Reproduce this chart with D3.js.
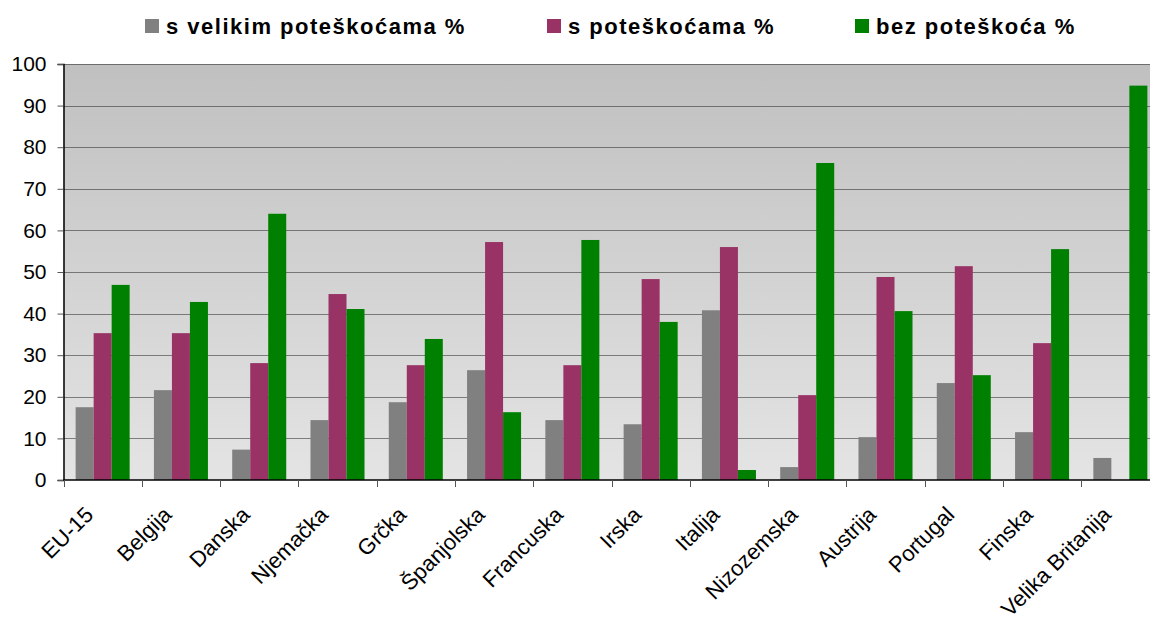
<!DOCTYPE html>
<html>
<head>
<meta charset="utf-8">
<script src="https://cdn.jsdelivr.net/npm/d3@7/dist/d3.min.js"></script>
<style>
  html, body { margin: 0; padding: 0; background: #fff; }
  svg { display: block; font-family: "Liberation Sans", Arial, sans-serif; }
</style>
</head>
<body>
<div id="chart"></div>
<script>
const categories = [`EU-15`, `Belgija`, `Danska`, `Njemačka`, `Grčka`, `Španjolska`, `Francuska`,
  `Irska`, `Italija`, `Nizozemska`, `Austrija`, `Portugal`, `Finska`, `Velika Britanija`];
const seriesNames = [`s velikim poteškoćama %`, `s poteškoćama %`, `bez poteškoća %`];
const velikim = [17.5, 21.6, 7.3, 14.4, 18.7, 26.4, 14.4, 13.4, 40.8, 3.1, 10.3, 23.3, 11.5, 5.3];
const poteskoce = [35.3, 35.3, 28.1, 44.7, 27.6, 57.2, 27.6, 48.3, 56.0, 20.4, 48.8, 51.4, 32.9, 0];
const bez = [46.9, 42.8, 64.0, 41.1, 33.9, 16.3, 57.7, 38.0, 2.4, 76.2, 40.6, 25.2, 55.5, 94.8];
const yTicks = [0, 10, 20, 30, 40, 50, 60, 70, 80, 90, 100];
const colors = [`#808080`, `#993366`, `#008000`];

const width = 1150;
const height = 619;
const plot = {left: 63.5, top: 64, bottom: 480, right: 1159.5};

const data = categories.map((c, i) => ({cat: c, values: [velikim[i], poteskoce[i], bez[i]]}));

const svg = d3.select(`#chart`).append(`svg`)
  .attr(`width`, width)
  .attr(`height`, height);

const x0 = d3.scaleBand()
  .domain(categories)
  .range([plot.left, plot.right])
  .paddingInner(0.31)
  .paddingOuter(0.155);

const x1 = d3.scaleBand()
  .domain(d3.range(seriesNames.length))
  .range([0, x0.bandwidth()]);

const y = d3.scaleLinear()
  .domain([0, 100])
  .range([plot.bottom, plot.top]);

// background gradient
const grad = svg.append(`defs`).append(`linearGradient`)
  .attr(`id`, `bg`)
  .attr(`x1`, 0).attr(`y1`, 0).attr(`x2`, 0).attr(`y2`, 1);
grad.append(`stop`).attr(`offset`, `0%`).attr(`stop-color`, `#c0c0c0`);
grad.append(`stop`).attr(`offset`, `100%`).attr(`stop-color`, `#e4e4e4`);

svg.append(`rect`)
  .attr(`x`, plot.left)
  .attr(`y`, plot.top)
  .attr(`width`, plot.right - plot.left)
  .attr(`height`, plot.bottom - plot.top)
  .attr(`fill`, `url(#bg)`);

// gridlines
svg.append(`g`)
  .selectAll(`line`)
  .data(yTicks.slice(1))
  .enter().append(`line`)
    .attr(`x1`, plot.left)
    .attr(`x2`, plot.right)
    .attr(`y1`, d => Math.round(y(d)) + 0.5)
    .attr(`y2`, d => Math.round(y(d)) + 0.5)
    .attr(`stroke`, `#1a1a1a`)
    .attr(`stroke-width`, 1)
    .attr(`stroke-dasharray`, `1,1`);

// bars
svg.append(`g`)
  .selectAll(`g`)
  .data(data)
  .enter().append(`g`)
    .attr(`transform`, d => `translate(${x0(d.cat)},0)`)
  .selectAll(`rect`)
  .data(d => d.values)
  .enter().append(`rect`)
    .attr(`x`, (d, i) => x1(i))
    .attr(`y`, d => y(d))
    .attr(`width`, x1.bandwidth())
    .attr(`height`, d => y(0) - y(d))
    .attr(`fill`, (d, i) => colors[i]);

// y axis
const yAxis = svg.append(`g`)
  .attr(`transform`, `translate(${plot.left},0)`)
  .call(d3.axisLeft(y).tickValues(yTicks).tickSize(6).tickPadding(11));
yAxis.select(`.domain`).attr(`stroke`, `#000`).attr(`stroke-width`, 1.5);
yAxis.selectAll(`.tick line`).attr(`stroke`, `#555`);
yAxis.selectAll(`.tick text`)
  .attr(`font-size`, `21px`)
  .attr(`font-family`, `"Liberation Sans", Arial, sans-serif`)
  .attr(`fill`, `#000`);

// x axis
const step = x0.step();
const bounds = d3.range(categories.length + 1).map(i => plot.left + i * step);
const xAxis = svg.append(`g`);
xAxis.append(`line`)
  .attr(`x1`, plot.left).attr(`x2`, plot.right)
  .attr(`y1`, plot.bottom).attr(`y2`, plot.bottom)
  .attr(`stroke`, `#000`).attr(`stroke-width`, 1.5);
xAxis.selectAll(`.xt`)
  .data(bounds)
  .enter().append(`line`)
    .attr(`class`, `xt`)
    .attr(`x1`, d => Math.round(d) + 0.5).attr(`x2`, d => Math.round(d) + 0.5)
    .attr(`y1`, plot.bottom).attr(`y2`, plot.bottom + 7)
    .attr(`stroke`, `#555`);

xAxis.selectAll(`text`)
  .data(categories)
  .enter().append(`text`)
    .attr(`transform`, d => `translate(${x0(d) + x0.bandwidth() / 2 - 8},516) rotate(-45)`)
    .attr(`text-anchor`, `end`)
    .attr(`font-size`, `22px`)
    .attr(`fill`, `#000`)
    .text(d => d);

// legend
const legendX = [145, 547, 855];
const legend = svg.append(`g`)
  .selectAll(`g`)
  .data(seriesNames)
  .enter().append(`g`)
    .attr(`transform`, (d, i) => `translate(${legendX[i]},0)`);
legend.append(`rect`)
  .attr(`x`, 0).attr(`y`, 19)
  .attr(`width`, 14).attr(`height`, 14)
  .attr(`fill`, (d, i) => colors[i]);
legend.append(`text`)
  .attr(`x`, 21)
  .attr(`y`, 34)
  .attr(`font-size`, `22px`)
  .attr(`font-weight`, `bold`)
  .style(`letter-spacing`, `1.5px`)
  .attr(`fill`, `#000`)
  .text(d => d);
</script>
</body>
</html>
